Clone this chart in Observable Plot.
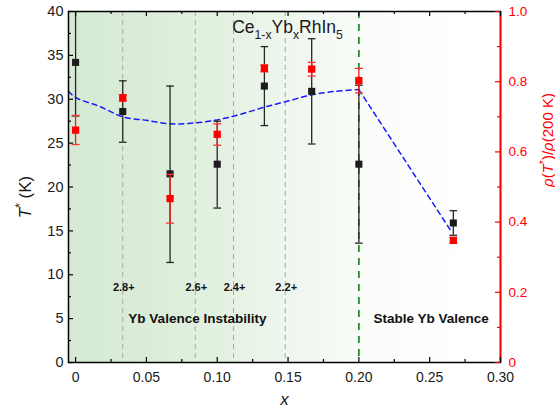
<!DOCTYPE html>
<html><head><meta charset="utf-8">
<script src="https://cdn.jsdelivr.net/npm/d3@7"></script>
<script src="https://cdn.jsdelivr.net/npm/@observablehq/plot@0.6"></script>
<style>body{margin:0;background:#fff;font-family:"Liberation Sans",Arial,sans-serif}</style>
</head><body><div id="chart"></div>
<script>
// Data
const xVals   = [0, 0.0333, 0.0667, 0.1, 0.1333, 0.1667, 0.2, 0.2667];
const tStar   = [34.2, 28.6, 21.5, 22.6, 31.5, 30.9, 22.6, 15.9];
const tLow    = [28.1, 25.1, 11.4, 17.6, 27.0, 24.9, 13.6, 14.5];
const tHigh   = [40.3, 32.1, 31.5, 27.5, 36.0, 36.9, 31.6, 17.3];
const rho     = [0.662, 0.754, 0.467, 0.650, 0.838, 0.836, 0.803, 0.348];
const rhoLow  = [0.621, 0.745, 0.397, 0.619, 0.828, 0.816, 0.768, 0.340];
const rhoHigh = [0.704, 0.763, 0.536, 0.680, 0.848, 0.855, 0.838, 0.356];
const fitX = [-0.005, 0, 0.0167, 0.0333, 0.05, 0.0667, 0.0833, 0.1, 0.1167, 0.1333, 0.15, 0.1667, 0.1833, 0.2];
const fitT = [30.9, 30.2, 29.2, 28.0, 27.6, 27.2, 27.3, 27.65, 28.3, 29.1, 29.8, 30.5, 30.9, 31.1];
const tailX = [0.2, 0.2654];
const tailT = [31.1, 14.9];
const valenceX = [0.0333, 0.0845, 0.1115, 0.148];
const valenceLabels = ["2.8+", "2.6+", "2.4+", "2.2+"];
const valenceLabelT = 8.6;
const boundaryX = [0.2];
const regionLabels = ["Yb Valence Instability", "Stable Yb Valence"];
const regionX = [0.086, 0.251];
const regionT = 5.0;
const yMajor = [0, 5, 10, 15, 20, 25, 30, 35, 40];
const yMinor = [2.5, 7.5, 12.5, 17.5, 22.5, 27.5, 32.5, 37.5];
const xMajor = [0, 0.05, 0.10, 0.15, 0.20, 0.25, 0.30];
const xMinor = [0.025, 0.075, 0.125, 0.175, 0.225, 0.275];
const rMajor = [0, 0.2, 0.4, 0.6, 0.8, 1.0];
const rMinor = [0.1, 0.3, 0.5, 0.7, 0.9];
const xDomain = [-0.005, 0.30];
const yDomain = [0, 40];
const rScale = 40; // right axis 0..1 maps onto left 0..40

const W = 555, H = 415, mL = 68, mR = 55, mT = 11, mB = 53;
const pw = W - mL - mR, ph = H - mT - mB;

const pts = xVals.map((x, i) => ({
  x, t: tStar[i], lo: tLow[i], hi: tHigh[i],
  r: rho[i] * rScale, rlo: rhoLow[i] * rScale, rhi: rhoHigh[i] * rScale
}));
const fit = fitX.map((x, i) => ({x, t: fitT[i]}));
const tail = tailX.map((x, i) => ({x, t: tailT[i]}));
const valence = valenceX.map((x, i) => ({x, label: valenceLabels[i]}));
const regions = regionLabels.map((label, i) => ({x: regionX[i], label}));

const capSymbol = {draw(ctx, size) { const w = Math.sqrt(size / Math.PI); ctx.moveTo(-w, 0); ctx.lineTo(w, 0); }};

function background(index, scales, values, dims) {
  const g = d3.create("svg:g");
  const grad = g.append("defs").append("linearGradient")
    .attr("id", "bgGrad").attr("x1", 0).attr("x2", 1).attr("y1", 0).attr("y2", 0);
  [[0, "#d5e9d3"], [0.2, "#dbedd9"], [0.35, "#e3f1e1"], [0.5, "#eef6ed"], [0.65, "#f7fbf6"], [0.8, "#fdfefd"], [1, "#ffffff"]]
    .forEach(([o, c]) => grad.append("stop").attr("offset", o).attr("stop-color", c));
  g.append("rect")
    .attr("x", dims.marginLeft).attr("y", dims.marginTop)
    .attr("width", dims.width - dims.marginLeft - dims.marginRight)
    .attr("height", dims.height - dims.marginTop - dims.marginBottom)
    .attr("fill", "url(#bgGrad)");
  return g.node();
}

// rich text: parts = [[text, {italic, sub, sup}]]
function richText(parts, place) {
  return (index, scales, values, dims) => {
    const p = place(scales, dims);
    const t = d3.create("svg:text")
      .attr("font-family", "Liberation Sans, Arial, sans-serif")
      .attr("font-size", p.size)
      .attr("fill", p.fill || "#1a1a1a")
      .attr("text-anchor", p.anchor || "middle")
      .attr("transform", `translate(${p.x},${p.y}) rotate(${p.rotate || 0})`);
    let shift = 0;
    for (const [txt, o = {}] of parts) {
      const s = t.append("tspan").text(txt);
      if (o.italic) s.attr("font-style", "italic");
      let target = o.sub ? p.size * 0.35 : o.sup ? -p.size * 0.4 : 0;
      if (o.sub || o.sup) s.attr("font-size", p.size * 0.7);
      if (target !== shift) { s.attr("dy", target - shift); shift = target; }
    }
    return t.node();
  };
}

const fmtX = d => d === 0 ? "0" : d.toFixed(2);
const fmtR = d => d === 0 ? "0" : (d / rScale).toFixed(1);

const chart = Plot.plot({
  width: W, height: H,
  marginLeft: mL, marginRight: mR, marginTop: mT, marginBottom: mB,
  style: {fontFamily: "Liberation Sans, Arial, sans-serif", background: "#fff"},
  x: {domain: xDomain, axis: null},
  y: {domain: yDomain, axis: null},
  marks: [
    background,
    Plot.ruleX(valence, {x: "x", stroke: "#a8a8a8", strokeWidth: 1, strokeDasharray: "5,4"}),
    Plot.ruleX(boundaryX, {stroke: "#2b8a2b", strokeWidth: 1.8, strokeDasharray: "7,6"}),
    Plot.line(fit, {x: "x", y: "t", curve: "catmull-rom", stroke: "#1a1aff", strokeWidth: 1.5, strokeDasharray: "5,4"}),
    Plot.line(tail, {x: "x", y: "t", stroke: "#1a1aff", strokeWidth: 1.5, strokeDasharray: "5,4"}),
    // black error bars
    Plot.ruleX(pts, {x: "x", y1: "lo", y2: "hi", stroke: "#262626", strokeWidth: 1.3, clip: true}),
    Plot.dot(pts, {x: "x", y: "lo", symbol: capSymbol, r: 3.8, stroke: "#262626", strokeWidth: 1.3, fill: "none"}),
    Plot.dot(pts, {x: "x", y: "hi", symbol: capSymbol, r: 3.8, stroke: "#262626", strokeWidth: 1.3, fill: "none", clip: true}),
    Plot.dot(pts, {x: "x", y: "t", symbol: "square", r: 4, fill: "#1c1c1c", stroke: "none"}),
    // red error bars
    Plot.ruleX(pts, {x: "x", y1: "rlo", y2: "rhi", stroke: "#ff1a1a", strokeWidth: 1.3}),
    Plot.dot(pts, {x: "x", y: "rlo", symbol: capSymbol, r: 4, stroke: "#ff3333", strokeWidth: 1.3, fill: "none"}),
    Plot.dot(pts, {x: "x", y: "rhi", symbol: capSymbol, r: 4, stroke: "#ff3333", strokeWidth: 1.3, fill: "none"}),
    Plot.dot(pts, {x: "x", y: "r", symbol: "square", r: 4.1, fill: "#ff0000", stroke: "none"}),
    // annotations
    Plot.text(valence, {x: "x", y: () => valenceLabelT, text: "label", dx: 1, fontSize: 11, fontWeight: "bold", fill: "#111"}),
    Plot.text(regions, {x: "x", y: () => regionT, text: "label", fontSize: 13.5, fontWeight: "bold", fill: "#111"}),
    richText([["Ce"], ["1-x", {sub: true}], ["Yb"], ["x", {sub: true}], ["RhIn"], ["5", {sub: true}]],
      (s) => ({x: s.x(0.15), y: s.y(37.5), size: 17.5})),
    // frame + ticks
    Plot.frame({stroke: "#000", strokeWidth: 1.5}),
    Plot.ruleX([xDomain[1]], {stroke: "#ff0000", strokeWidth: 1.6}),
    Plot.tickY(yMajor, {y: d => d, insetRight: pw - 5, stroke: "#000", strokeWidth: 1.2}),
    Plot.tickY(yMinor, {y: d => d, insetRight: pw - 3, stroke: "#000", strokeWidth: 1.2}),
    Plot.tickX(xMajor, {x: d => d, insetTop: ph - 5, stroke: "#000", strokeWidth: 1.2}),
    Plot.tickX(xMinor, {x: d => d, insetTop: ph - 3, stroke: "#000", strokeWidth: 1.2}),
    Plot.tickX(xMajor, {x: d => d, insetBottom: ph - 5, stroke: "#000", strokeWidth: 1.2}),
    Plot.tickX(xMinor, {x: d => d, insetBottom: ph - 3, stroke: "#000", strokeWidth: 1.2}),
    Plot.tickY(rMajor.map(d => d * rScale), {y: d => d, insetLeft: pw - 5, stroke: "#ff0000", strokeWidth: 1.2}),
    Plot.tickY(rMinor.map(d => d * rScale), {y: d => d, insetLeft: pw - 3, stroke: "#ff0000", strokeWidth: 1.2}),
    // axis labels
    Plot.axisY(yMajor, {anchor: "left", tickSize: 0, tickPadding: 5, fontSize: 14.5, fill: "#1a1a1a", label: null}),
    Plot.axisY(rMajor.map(d => d * rScale), {anchor: "right", tickSize: 0, tickPadding: 8, fontSize: 13.5, tickFormat: fmtR, fill: "#ff0000", label: null}),
    Plot.axisX(xMajor, {anchor: "bottom", tickSize: 0, tickPadding: 10, fontSize: 14, tickFormat: fmtX, fill: "#1a1a1a", label: null}),
    Plot.text(["x"], {frameAnchor: "bottom", dy: 42, fontSize: 17, fontStyle: "italic", fill: "#1a1a1a"}),
    richText([["T", {italic: true}], ["*", {sup: true}], [" (K)"]],
      (s, d) => ({x: 31, y: 197, rotate: -90, size: 17})),
    richText([["ρ", {italic: true}], ["("], ["T", {italic: true}], ["*", {sup: true}], [")/"], ["ρ", {italic: true}], ["(200 K)"]],
      (s, d) => ({x: 553, y: 140, rotate: -90, size: 15, fill: "#ff0000"}))
  ]
});
document.getElementById("chart").append(chart);
</script>
</body></html>
